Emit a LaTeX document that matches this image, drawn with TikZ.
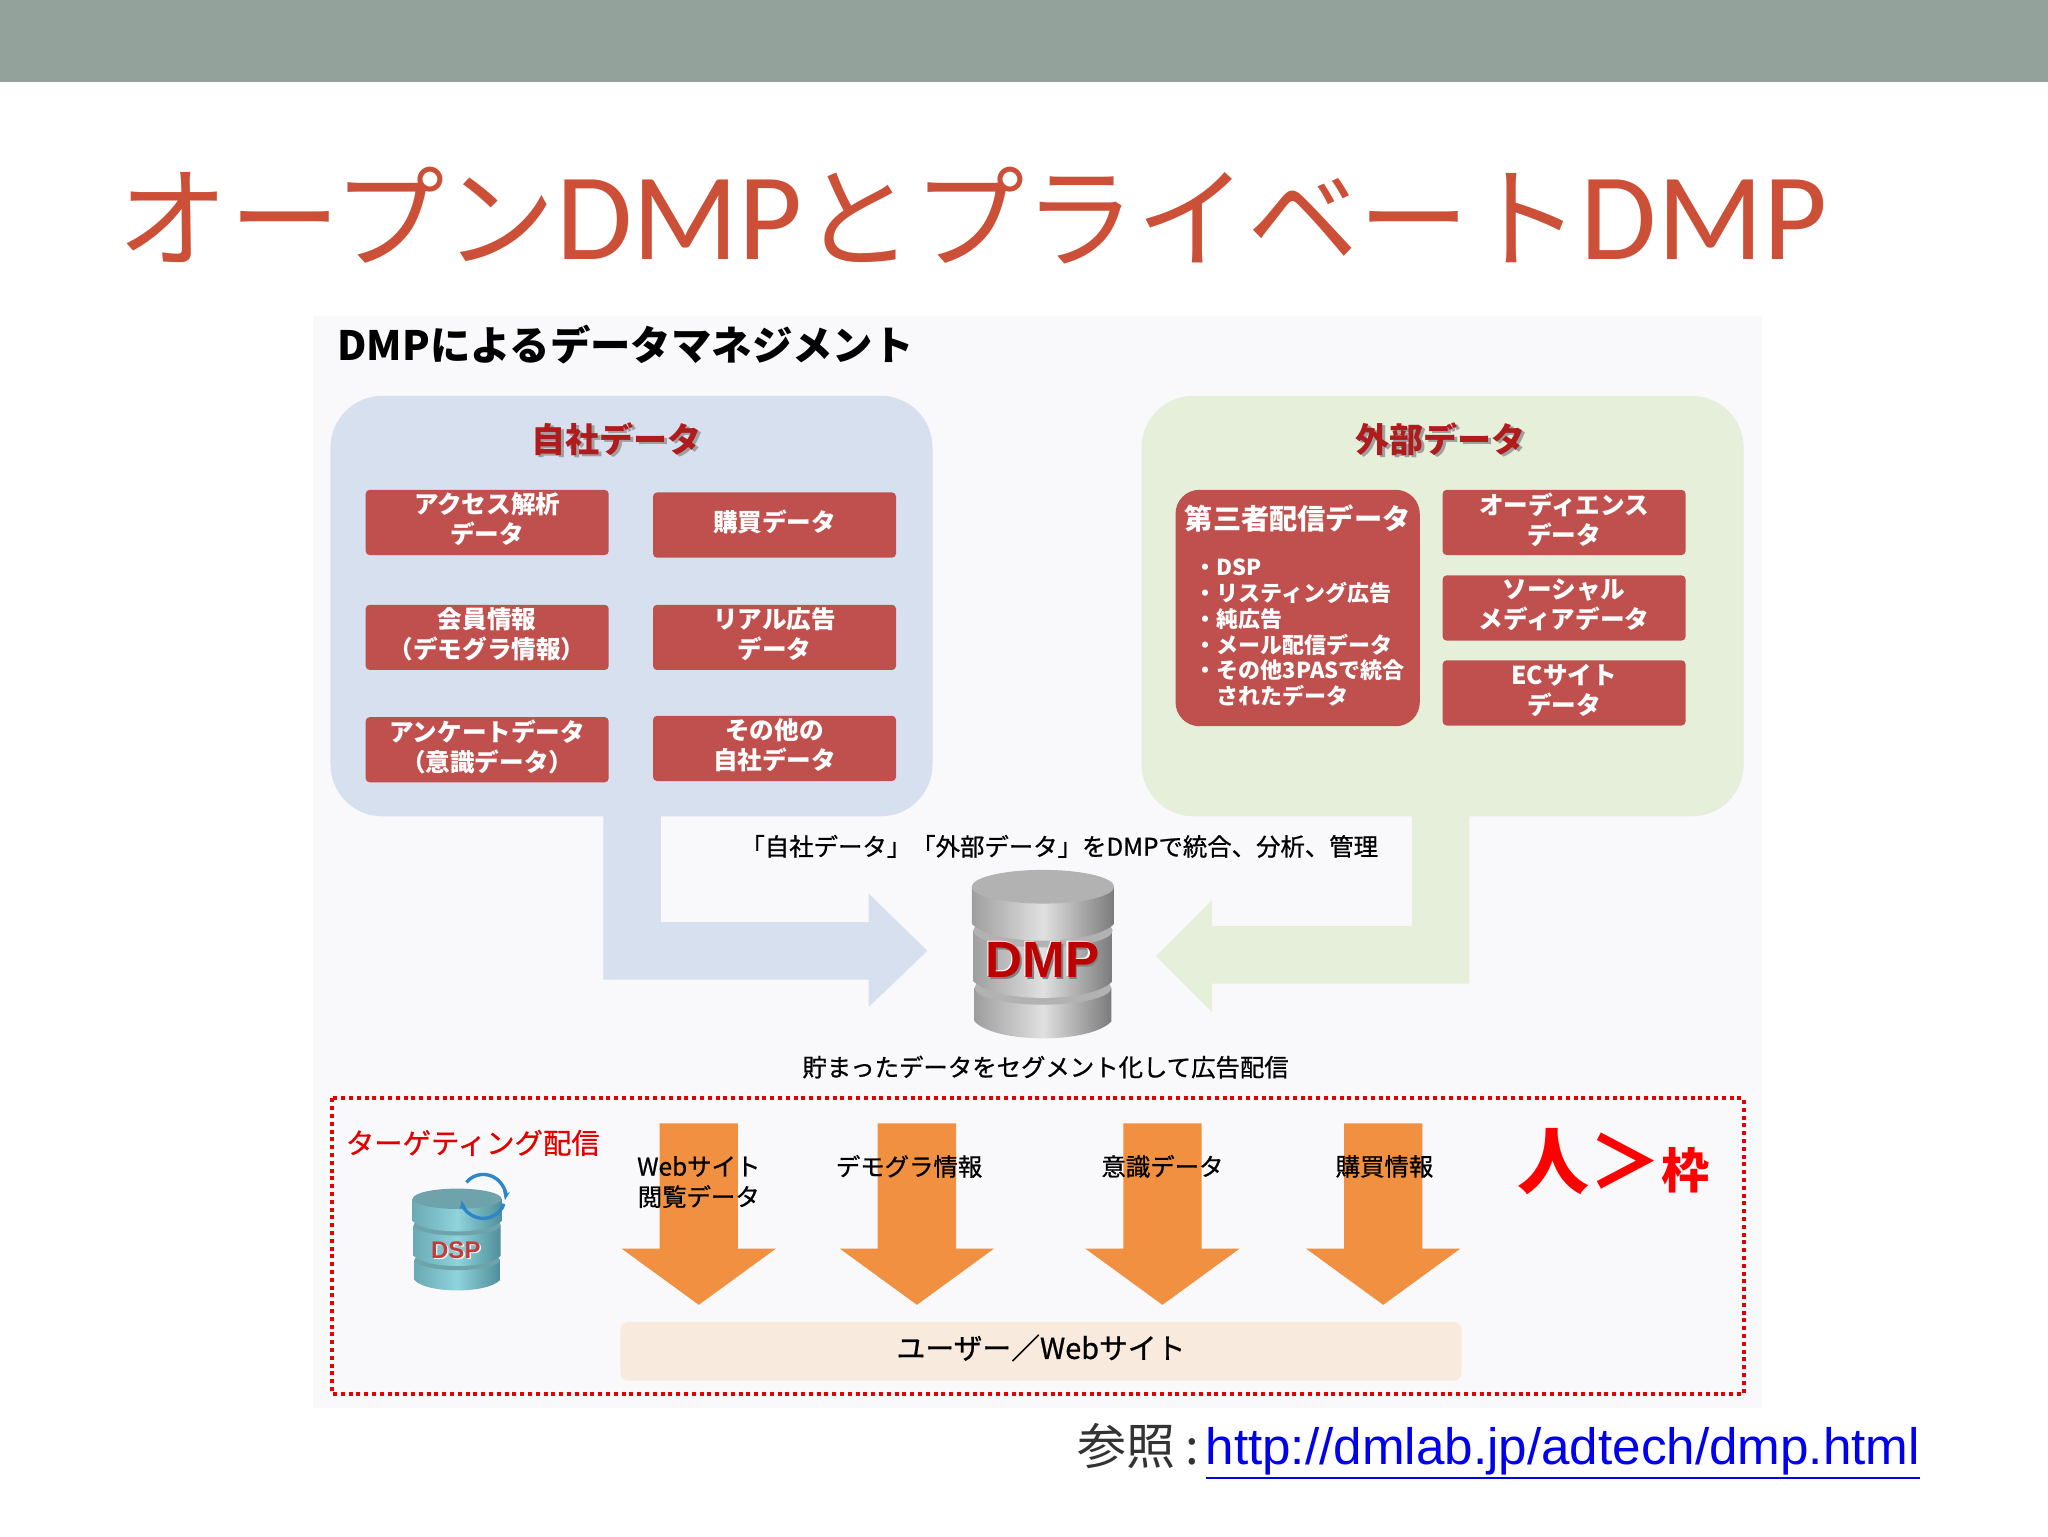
\documentclass[tikz,border=0pt]{standalone}
\usepackage{fontspec}
\setmainfont{Noto Sans CJK JP}
\newfontfamily\thinfont[FakeBold=.8]{Noto Sans CJK JP}
\newfontfamily\latinfont{Carlito}
\newfontfamily\linkfont{Liberation Sans}
\usetikzlibrary{arrows.meta}
\definecolor{bandgray}{HTML}{93A29A}
\definecolor{titlered}{HTML}{CB5037}
\definecolor{panelbg}{HTML}{F9F9FB}
\definecolor{ownblue}{HTML}{D7E0EF}
\definecolor{extgreen}{HTML}{E6EFDA}
\definecolor{boxred}{HTML}{C0504D}
\definecolor{headred}{HTML}{B01C1E}
\definecolor{arroworange}{HTML}{F09040}
\definecolor{userbeige}{HTML}{F8EADC}
\definecolor{linkblue}{HTML}{0000EE}
\definecolor{spinblue}{HTML}{2F86C6}
\newcommand{\linkline}[1]{\vtop{\hbox{#1}\kern.9pt\hrule height 1.1pt}}
\tikzset{
	databox/.style={fill=boxred,rounded corners=2pt,minimum width=121.5pt,inner sep=0pt,text=white,align=center,text depth=4pt,font=\fontsize{12.3}{15}\selectfont\bfseries},
	headlabel/.style={text=headred,font=\fontsize{17}{20}\selectfont\bfseries,inner sep=0pt},
	plainlabel/.style={inner sep=0pt,font=\fontsize{12.2}{15.2}\selectfont\thinfont,align=center},
	spinarc/.style={spinblue,line width=1.7pt,-{Stealth[length=4.5pt]}},
	drum/.pic={
		\foreach \xa/\xb/\ya/\yb in {2/98/70/90,1/99/36/66,0/100/10/32}
		{
			\shade[left color=drumside,right color=drumdark,middle color=drumlight] (\xa,\ya)--(\xa,\yb) .. controls ({\xa+15},{\yb+13.3}) and ({\xb-15},{\yb+13.3}) .. (\xb,\yb)--(\xb,\ya)--cycle;
			\fill[drumtop] ({(\xa+\xb)/2},\ya) ellipse [x radius={(\xb-\xa)/2},y radius=10];
		}
	}
}
\begin{document}
\begin{tikzpicture}[x=.65306pt,y=-.65306pt,line join=round]
	\fill[white] (0,0) rectangle (1568,1176);
	\useasboundingbox (0,0) rectangle (1568,1176);
	\fill[bandgray] (0,0) rectangle (1568,63);
	\node[anchor=west,inner sep=0pt,text=titlered,font=\fontsize{55.6}{60}\selectfont] (title) at (90,165) {オープン{\latinfont\fontsize{62}{60}\selectfont DMP}とプライベート{\latinfont\fontsize{62}{60}\selectfont DMP}};
	\fill[panelbg] (240,242) rectangle (1349,1078);
	\node[anchor=west,inner sep=0pt,font=\fontsize{20.2}{24}\selectfont\bfseries] (panelhead) at (258,264) {DMPによるデータマネジメント};
	\fill[ownblue,rounded corners=26pt] (253,303) rectangle (714,625);
	\fill[extgreen,rounded corners=26pt] (874,303) rectangle (1335,625);
	\fill[ownblue] (462,620)--(506,620)--(506,706)--(665,706)--(665,684)--(710,728)--(665,771)--(665,750)--(462,750)--cycle;
	\fill[extgreen] (1125,620)--(1081,620)--(1081,709)--(928,709)--(928,689)--(885,732)--(928,775)--(928,753)--(1125,753)--cycle;
	\foreach \n/\x/\txt in {own/472/自社データ,ext/1103/外部データ}
	{
		\node[headlabel,text=gray!75] (\n shadow) at (\x+2,338) {\txt};
		\node[headlabel] (\n) at (\x,336) {\txt};
	}
	\foreach \n/\x/\y/\txt in {access/373/400/{アクセス解析\\データ},buy/593/402/{購買データ},member/373/488/{会員情報\\（デモグラ情報）},real/593/488/{リアル広告\\データ},survey/373/574/{アンケートデータ\\（意識データ）},other/593/573/{その他の\\自社データ},audience/1197.5/400/{オーディエンス\\データ},social/1197.5/465.5/{ソーシャル\\メディアデータ},ec/1197.5/530.5/{ECサイト\\データ}}
	{
		\node[databox,minimum height=32.6pt] (\n) at (\x,\y) {\txt};
	}
	\fill[boxred,rounded corners=12pt] (900,375) rectangle (1087,556);
	\node[inner sep=0pt,text=white,font=\fontsize{14.1}{17}\selectfont\bfseries] (third) at (993.5,397) {第三者配信データ};
	\node[anchor=west,inner sep=0pt,align=left,text=white,font=\fontsize{11}{12.9}\selectfont\bfseries] (thirdlist) at (914.5,484.5) {・DSP\\・リスティング広告\\・純広告\\・メール配信データ\\・その他3PASで統合\\　されたデータ};
	\node[plainlabel] (merge) at (811,648) {「自社データ」「外部データ」をDMPで統合、分析、管理};
	\begin{scope}[shift={(744,666)},xscale=1.09,yscale=1.29]
		\colorlet{drumside}{black!38}
		\colorlet{drumdark}{black!52}
		\colorlet{drumlight}{black!12}
		\colorlet{drumtop}{black!30}
		\pic[transform shape] {drum};
	\end{scope}
	\foreach \dx/\col in {1.5/gray,-1/white}
	{
		\node[inner sep=0pt,text=\col,font=\fontsize{25.6}{28}\selectfont\bfseries\linkfont] (dmp\col) at (798+\dx,735+\dx) {DMP};
	}
	\node[inner sep=0pt,text=red!75!black,font=\fontsize{25.6}{28}\selectfont\bfseries\linkfont] (dmp) at (798,735) {DMP};
	\node[plainlabel] (segment) at (800.5,817) {貯まったデータをセグメント化して広告配信};
	\draw[red!90!black,line width=2pt,dash pattern=on 2pt off 1.9pt] (254,841) rectangle (1335,1067);
	\node[inner sep=0pt,text=red!90!black,font=\fontsize{14.2}{17}\selectfont\thinfont] (target) at (362,875) {ターゲティング配信};
	\begin{scope}[shift={(316,910)},xscale=.68,yscale=.78]
		\definecolor{drumside}{HTML}{6AAAB5}
		\definecolor{drumdark}{HTML}{4F8F9B}
		\definecolor{drumlight}{HTML}{8FD3DB}
		\definecolor{drumtop}{HTML}{6EA3AC}
		\pic[transform shape] {drum};
	\end{scope}
	\coordinate (spin) at (370,916);
	\draw[spinarc] ([shift={(140:11pt)}]spin) arc[start angle=140,end angle=-10,radius=11pt];
	\draw[spinarc] ([shift={(-20:11pt)}]spin) arc[start angle=-20,end angle=-170,radius=11pt];
	\node[inner sep=0pt,text=white,font=\fontsize{12}{14}\selectfont\bfseries\linkfont] (dspshadow) at (350,958) {DSP};
	\node[inner sep=0pt,text=red!55!gray,font=\fontsize{12}{14}\selectfont\bfseries\linkfont] (dsp) at (349,957) {DSP};
	\foreach \x in {535,702,890,1059}
	{
		\fill[arroworange] (\x-30,860)--(\x+30,860)--(\x+30,956)--(\x+59,956)--(\x,999)--(\x-59,956)--(\x-30,956)--cycle;
	}
	\foreach \n/\x/\y/\txt in {web/535/905/{Webサイト\\閲覧データ},demo/696/893/デモグラ情報,aware/890/893/意識データ,buyinfo/1060/893/購買情報}
	{
		\node[plainlabel] (\n) at (\x,\y) {\txt};
	}
	\fill[userbeige,rounded corners=4pt] (475,1012) rectangle (1119,1057);
	\node[inner sep=0pt,font=\fontsize{14.4}{17}\selectfont\thinfont] (user) at (797,1032) {ユーザー／Webサイト};
	\node[inner sep=0pt,text=red,font=\bfseries] (slogan) at (1235,889) {\fontsize{36}{36}\selectfont 人＞\fontsize{24}{24}\selectfont 枠};
	\node[anchor=west,inner sep=0pt,text=black!80,font=\fontsize{24.5}{28}\selectfont] (ref) at (825,1111) {参照\hspace{5pt}:\hspace{3pt}\textcolor{linkblue}{\linkfont\fontsize{25.6}{28}\selectfont\linkline{http://dmlab.jp/adtech/dmp.html}}};
\end{tikzpicture}
\end{document}
